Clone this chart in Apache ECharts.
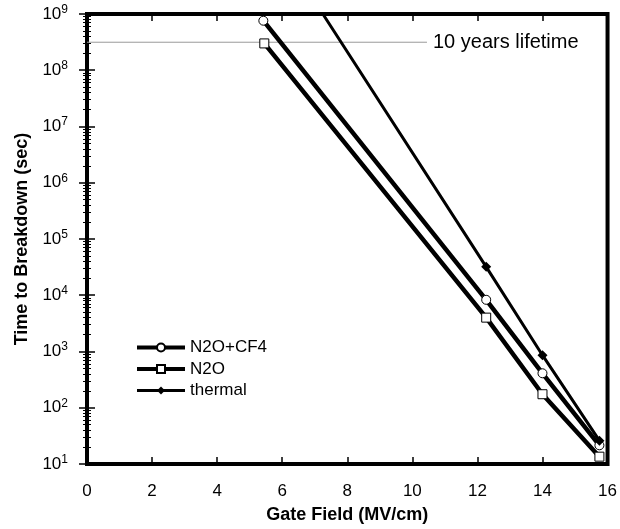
<!DOCTYPE html>
<html>
<head>
<meta charset="utf-8">
<script src="https://cdn.jsdelivr.net/npm/echarts@6/dist/echarts.min.js"></script>
<style>html,body{margin:0;padding:0;background:#fff;}#c{width:620px;height:529px;}</style>
</head>
<body>
<div id="c"></div>
<script>
// ---- data ----
var xTicks = [0, 2, 4, 6, 8, 10, 12, 14, 16];
var yExponents = [1, 2, 3, 4, 5, 6, 7, 8, 9];

var fieldCF4 = [5.42, 12.27, 14.0, 15.75];
var timeCF4 = [7.6e8, 8.3e3, 410, 21.5];

var fieldN2O = [5.45, 12.27, 14.0, 15.75];
var timeN2O = [3.0e8, 4.0e3, 174, 13.5];

var fieldThermal = [7.25, 12.27, 14.0, 15.75];
var timeThermal = [1e9, 3.2e4, 860, 26];
var thermalMarked = [false, true, true, true];

var lifetimeField = [0, 10.45];
var lifetimeTime = [3.15e8, 3.15e8];
var lifetimeLabel = '10 years lifetime';

function pairs(xs, ys) { return xs.map(function (x, i) { return [x, ys[i]]; }); }

var FONT = '"Liberation Sans", Arial, Helvetica, sans-serif';
var chart = echarts.init(document.getElementById('c'));

function yLabel(v) {
  var e = Math.round(Math.log10(v));
  if (yExponents.indexOf(e) < 0) return '';
  return '{b|10}{s|' + e + '}';
}
var yRich = {
  b: { fontSize: 17, fontFamily: FONT, color: '#000' },
  s: { fontSize: 12, fontFamily: FONT, color: '#000', padding: [0, 0, 9, 0] }
};

var option = {
  backgroundColor: '#fff',
  animation: false,
  grid: { left: 87, right: 12, top: 14, bottom: 62, show: true, borderColor: '#000', borderWidth: 4, backgroundColor: 'transparent' },
  legend: {
    orient: 'vertical', left: 130, top: 334,
    itemWidth: 48, itemHeight: 10, itemGap: 4.5,
    textStyle: { fontSize: 17, fontFamily: FONT, color: '#000' },
    data: [
      { name: 'N2O+CF4', lineStyle: { width: 4 } },
      { name: 'N2O', lineStyle: { width: 4 } },
      { name: 'thermal', lineStyle: { width: 3 } }
    ]
  },
  xAxis: [{
    type: 'value', min: xTicks[0], max: xTicks[xTicks.length - 1], interval: 2, position: 'bottom',
    name: 'Gate Field (MV/cm)', nameLocation: 'middle', nameGap: 42,
    nameTextStyle: { fontSize: 18, fontWeight: 'bold', fontFamily: FONT, color: '#000' },
    axisLine: { show: false },
    axisTick: { inside: true, length: 7, lineStyle: { color: '#000', width: 1.5 } },
    axisLabel: { fontSize: 17, fontFamily: FONT, color: '#000', margin: 19,
      formatter: function (v) { return xTicks.indexOf(v) >= 0 ? String(v) : ''; } },
    splitLine: { show: false }
  }, {
    type: 'value', min: xTicks[0], max: xTicks[xTicks.length - 1], interval: 2, position: 'top',
    axisLine: { show: false },
    axisTick: { inside: true, length: 7, lineStyle: { color: '#000', width: 1.5 } },
    axisLabel: { show: false }, splitLine: { show: false }
  }],
  yAxis: [{
    type: 'log', logBase: 10, min: 10, max: 1e9, position: 'left',
    name: 'Time to Breakdown (sec)', nameLocation: 'middle', nameGap: 56,
    nameTextStyle: { fontSize: 18, fontWeight: 'bold', fontFamily: FONT, color: '#000' },
    axisLine: { show: false },
    axisTick: { inside: true, length: 8, lineStyle: { color: '#000', width: 1.5 } },
    minorTick: { show: true, splitNumber: 9, length: 4, lineStyle: { color: '#000', width: 1 } },
    axisLabel: { margin: 19, formatter: yLabel, rich: yRich },
    splitLine: { show: false }, minorSplitLine: { show: false }
  }, {
    type: 'log', logBase: 10, min: 10, max: 1e9, position: 'right',
    axisLine: { show: false },
    axisTick: { inside: true, length: 8, lineStyle: { color: '#000', width: 1.5 } },
    minorTick: { show: true, splitNumber: 9, length: 4, lineStyle: { color: '#000', width: 1 } },
    axisLabel: { show: false },
    splitLine: { show: false }, minorSplitLine: { show: false }
  }],
  series: [{
    name: '10 years', type: 'line', xAxisIndex: 0, yAxisIndex: 0,
    data: pairs(lifetimeField, lifetimeTime), symbol: 'none', silent: true,
    lineStyle: { color: '#999', width: 1 }, z: 1,
    endLabel: { show: true, formatter: lifetimeLabel, distance: 6, fontSize: 20, fontFamily: FONT, color: '#000' }
  }, {
    name: 'N2O+CF4', type: 'line', data: pairs(fieldCF4, timeCF4),
    symbol: 'circle', symbolSize: 9, showAllSymbol: true,
    lineStyle: { color: '#000', width: 4.5 },
    itemStyle: { color: '#fff', borderColor: '#000', borderWidth: 1 }, z: 3
  }, {
    name: 'N2O', type: 'line', data: pairs(fieldN2O, timeN2O),
    symbol: 'rect', symbolSize: 9, showAllSymbol: true,
    lineStyle: { color: '#000', width: 4.5 },
    itemStyle: { color: '#fff', borderColor: '#000', borderWidth: 1 }, z: 3
  }, {
    name: 'thermal', type: 'line',
    data: fieldThermal.map(function (x, i) {
      return thermalMarked[i] ? [x, timeThermal[i]] : { value: [x, timeThermal[i]], symbol: 'none' };
    }),
    symbol: 'diamond', symbolSize: 10, showAllSymbol: true,
    lineStyle: { color: '#000', width: 3 },
    itemStyle: { color: '#000', borderColor: '#000', borderWidth: 0 }, z: 4
  }]
};
chart.setOption(option);
</script>
</body>
</html>
